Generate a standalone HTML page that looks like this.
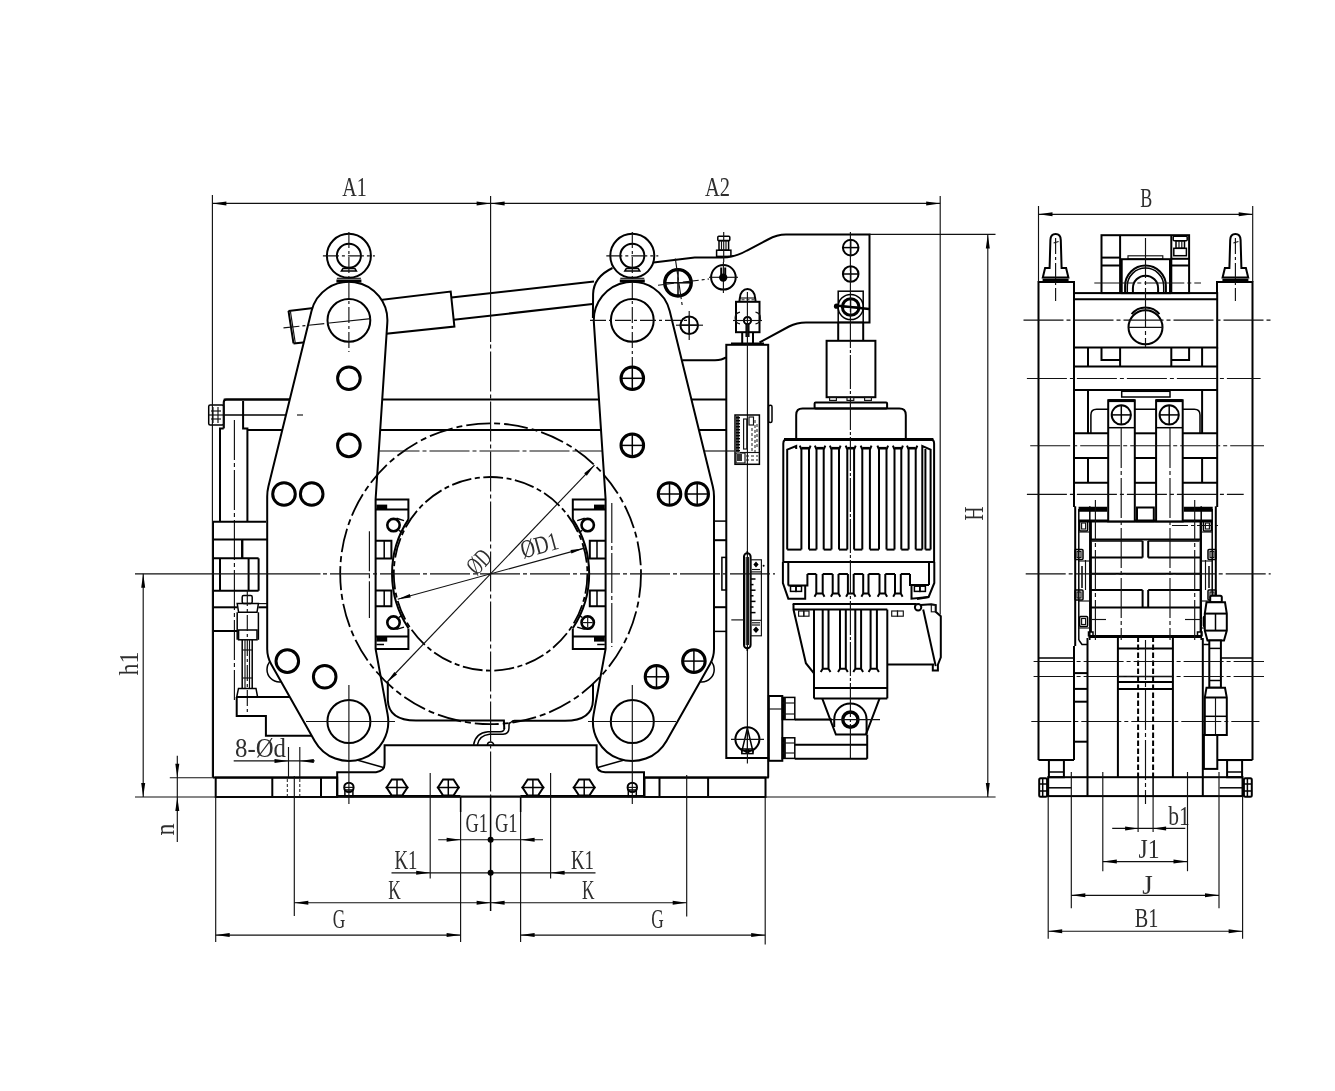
<!DOCTYPE html>
<html><head><meta charset="utf-8"><title>Brake drawing</title>
<style>
html,body{margin:0;padding:0;background:#fff}
body{width:1335px;height:1091px;overflow:hidden;font-family:"Liberation Serif",serif}
svg{display:block;filter:grayscale(1)}
.k{fill:none;stroke:#000;stroke-width:2}
.kw{fill:#fff;stroke:#000;stroke-width:2}
.m{fill:none;stroke:#000;stroke-width:1.5}
.mw{fill:#fff;stroke:#000;stroke-width:1.5}
.h{fill:none;stroke:#000;stroke-width:3}
.hw{fill:#fff;stroke:#000;stroke-width:2.6}
.t{fill:none;stroke:#111;stroke-width:1.15}
.tw{fill:#fff;stroke:#1a1a1a;stroke-width:1}
.c{fill:none;stroke:#111;stroke-width:1.15;stroke-dasharray:40 3 4 3}
.cs{fill:none;stroke:#111;stroke-width:1.15;stroke-dasharray:16 3 3 3}
.cd{fill:none;stroke:#000;stroke-width:1.8;stroke-dasharray:20 3.5 5 3.5}
.cd2{fill:none;stroke:#000;stroke-width:1.8;stroke-dasharray:24 4 6 4}
.d{fill:none;stroke:#000;stroke-width:2;stroke-dasharray:5.5 2.5}
.dt{fill:none;stroke:#1a1a1a;stroke-width:1;stroke-dasharray:3 2}
.ar{fill:#000;stroke:none}
.fk{fill:#000;stroke:none}
.g{fill:#777;stroke:none}
.tx{font-family:"Liberation Serif",serif;fill:#2e2e2e}
</style></head><body>
<svg width="1335" height="1091" viewBox="0 0 1335 1091">
<rect x="0" y="0" width="1335" height="1091" fill="#fff"/>
<g id="main">
<line class="k" x1="223.7" y1="399.5" x2="726" y2="399.5"/>
<line class="k" x1="247.4" y1="429.9" x2="726" y2="429.9"/>
<path class="k" d="M288.5 310.9 L450.7 291.5 L454.4 326.6 L293.5 343.4"/>
<path class="k" d="M288.5 310.9 L293.5 343.4"/>
<path class="t" d="M290.3 310.7 L295.3 343.2"/>
<path class="k" d="M451.4 297.6 L594 281.6"/>
<path class="k" d="M453.8 319.8 L592.5 304"/>
<rect class="m" x="208.7" y="405" width="15" height="20" rx="1.5"/>
<line class="t" x1="208.7" y1="415" x2="223.7" y2="415"/>
<line class="t" x1="213" y1="407" x2="213" y2="423"/>
<line class="t" x1="218" y1="407" x2="218" y2="423"/>
<line class="t" x1="211" y1="411" x2="221" y2="411"/>
<line class="t" x1="211" y1="419" x2="221" y2="419"/>
<path class="k" d="M223.7 428.6 L223.7 402.5 Q223.7 399.5 226.7 399.5 L300 399.5"/>
<path class="k" d="M243.1 401 L243.1 428.6 L247.4 428.6 L247.4 521.7"/>
<path class="k" d="M223.7 428.6 L220 428.6 L220 521.7"/>
<line class="m" x1="223.7" y1="415" x2="297" y2="415"/>
<line class="c" x1="234.4" y1="420" x2="234.4" y2="700"/>
<line class="t" x1="224" y1="402" x2="224" y2="428"/>
<line class="k" x1="213" y1="521.7" x2="266" y2="521.7"/>
<line class="k" x1="213" y1="521.7" x2="213" y2="777.6"/>
<line class="k" x1="213" y1="539.6" x2="267.8" y2="539.6"/>
<line class="t" x1="241.6" y1="539.6" x2="241.6" y2="558.3"/>
<line class="k" x1="242.4" y1="539.6" x2="242.4" y2="558.3"/>
<line class="k" x1="213" y1="558.3" x2="258.6" y2="558.3"/>
<line class="k" x1="258.6" y1="558.3" x2="258.6" y2="590.8"/>
<line class="k" x1="220" y1="558.3" x2="220" y2="590.8"/>
<line class="k" x1="248.6" y1="558.3" x2="248.6" y2="590.8"/>
<line class="k" x1="213" y1="590.8" x2="258.6" y2="590.8"/>
<line class="k" x1="213" y1="607.3" x2="237.2" y2="607.3"/>
<line class="k" x1="258.4" y1="607.3" x2="267.8" y2="607.3"/>
<line class="k" x1="213" y1="631" x2="237.2" y2="631"/>
<line class="t" x1="258.4" y1="603.6" x2="267.8" y2="603.6"/>
<rect class="m" x="242.2" y="595.4" width="10" height="8.2" rx="1.5"/>
<path class="m" d="M237.2 603.6 L258.4 603.6 L257 612.3 L238.6 612.3 Z"/>
<line class="m" x1="237.2" y1="612.3" x2="237.2" y2="639.8"/>
<line class="m" x1="258.4" y1="612.3" x2="258.4" y2="639.8"/>
<rect class="m" x="238.6" y="630" width="18.4" height="9.8"/>
<line class="m" x1="242.2" y1="639.8" x2="242.2" y2="688.4"/>
<line class="m" x1="252.2" y1="639.8" x2="252.2" y2="688.4"/>
<line class="t" x1="245" y1="639.8" x2="245" y2="688.4"/>
<line class="t" x1="249.5" y1="639.8" x2="249.5" y2="688.4"/>
<line class="t" x1="242.2" y1="650" x2="252.2" y2="650"/>
<line class="t" x1="242.2" y1="678" x2="252.2" y2="678"/>
<path class="m" d="M238.5 688.4 L256 688.4 L257.6 697.1 L236.7 697.1 Z"/>
<line class="cs" x1="247.3" y1="590" x2="247.3" y2="716"/>
<path class="k" d="M236.7 697.1 L300 697.1"/>
<path class="k" d="M236.7 697.1 L236.7 715.9 L265.9 715.9 L265.9 735.8 L320 735.8"/>
<circle class="m" cx="279.5" cy="669.5" r="12.5"/>
<circle class="m" cx="701.7" cy="669.5" r="12.5"/>
<path class="k" d="M213 777.6 L337.2 777.6"/>
<rect class="k" x="215.7" y="777.6" width="121.5" height="19.4"/>
<line class="k" x1="272.3" y1="777.6" x2="272.3" y2="797"/>
<line class="k" x1="321" y1="777.6" x2="321" y2="797"/>
<line class="dt" x1="287.3" y1="779" x2="287.3" y2="797"/>
<line class="dt" x1="299.8" y1="779" x2="299.8" y2="797"/>
<path class="k" d="M337.2 797 L337.2 772.2 L376 772.2 Q384.6 771 384.6 764 L384.6 745.2 L596.6 745.2 L596.6 764 Q596.6 772.2 605.2 772.2 L644 772.2 L644 797"/>
<path class="k" style="stroke-width:2.8" d="M337.2 796.3 L460.6 796.3 M520.3 796.3 L644.5 796.3"/>
<line class="k" x1="460.6" y1="796.5" x2="520.3" y2="796.5"/>
<line class="k" x1="644.5" y1="777.6" x2="768.8" y2="777.6"/>
<rect class="k" x="644.5" y="777.6" width="121" height="19.4"/>
<line class="k" x1="659.5" y1="777.6" x2="659.5" y2="797"/>
<line class="k" x1="708.1" y1="777.6" x2="708.1" y2="797"/>
<circle class="k" cx="348.9" cy="787.4" r="4.7"/>
<line class="t" x1="344.2" y1="787.4" x2="353.6" y2="787.4"/>
<rect class="m" x="344.9" y="790" width="8" height="6.5"/>
<circle class="k" cx="632.3" cy="787.4" r="4.7"/>
<line class="t" x1="627.6" y1="787.4" x2="637" y2="787.4"/>
<rect class="m" x="628.3" y="790" width="8" height="6.5"/>
<path class="k" d="M386.6 787.5 L391.8 779.4 L402.2 779.4 L407.4 787.5 L402.2 795.6 L391.8 795.6 Z"/>
<line class="m" x1="385.5" y1="787.5" x2="408.5" y2="787.5"/>
<line class="m" x1="397" y1="779.4" x2="397" y2="795.6"/>
<path class="k" d="M437.9 787.5 L443.1 779.4 L453.5 779.4 L458.7 787.5 L453.5 795.6 L443.1 795.6 Z"/>
<line class="m" x1="436.8" y1="787.5" x2="459.8" y2="787.5"/>
<line class="m" x1="448.3" y1="779.4" x2="448.3" y2="795.6"/>
<path class="k" d="M522.5 787.5 L527.7 779.4 L538.1 779.4 L543.3 787.5 L538.1 795.6 L527.7 795.6 Z"/>
<line class="m" x1="521.4" y1="787.5" x2="544.4" y2="787.5"/>
<line class="m" x1="532.9" y1="779.4" x2="532.9" y2="795.6"/>
<path class="k" d="M573.8 787.5 L579 779.4 L589.4 779.4 L594.6 787.5 L589.4 795.6 L579 795.6 Z"/>
<line class="m" x1="572.7" y1="787.5" x2="595.7" y2="787.5"/>
<line class="m" x1="584.2" y1="779.4" x2="584.2" y2="795.6"/>
<path class="m" d="M473.6 744.9 Q475.5 733 488 731.8 L500 731.8 Q504.5 731.5 504.4 728"/>
<path class="m" d="M477.4 744.9 Q479 735.5 489.5 734.3 L503 734.3 Q509 734 509 728 L509 724.5 Q509.3 722.5 511.5 722.3"/>
<path class="m" d="M487.4 745.2 A3.2 3.2 0 0 1 493.8 745.2"/>
<path class="k" d="M387.8 682 L387.8 700 Q388.5 720.5 416 720.5 L503.9 720.5 L504.3 729"/>
<path class="k" d="M593 684 L593 700 Q592.5 720.8 565 720.8 L514.5 720.8 Q512.5 721 511.5 722.3"/>
<path class="kw" d="M311.5 311.1 L268.4 486.6 Q267.2 491.5 267.2 496.5 L267.2 649 Q267.2 657 271.1 664 L314.7 740.9 A39.3 39.3 0 0 0 387.6 714.4 L375.6 649 L375.6 499.2 L387.3 322.9 A38.5 38.5 0 0 0 311.5 311.1 Z"/>
<path class="kw" d="M669.7 311.1 L712.8 486.6 Q714 491.5 714 496.5 L714 649 Q714 657 710.1 664 L666.5 740.9 A39.3 39.3 0 0 1 593.6 714.4 L605.6 649 L605.6 499.2 L593.9 322.9 A38.5 38.5 0 0 1 669.7 311.1 Z"/>
<line class="m" x1="357" y1="760" x2="383.5" y2="767.5"/>
<line class="m" x1="624.2" y1="760" x2="597.7" y2="767.5"/>
<line class="t" x1="297" y1="415" x2="303" y2="415"/>
<circle class="k" cx="348.9" cy="320.3" r="21.4"/>
<circle class="k" cx="348.9" cy="721.5" r="21.5"/>
<circle class="k" cx="632.3" cy="320.3" r="21.4"/>
<circle class="k" cx="632.3" cy="721.5" r="21.5"/>
<circle class="h" cx="348.9" cy="378.3" r="11.3"/>
<circle class="h" cx="632.3" cy="378.3" r="11.3"/>
<line class="m" x1="621" y1="378.3" x2="643.6" y2="378.3"/>
<line class="m" x1="632.3" y1="367" x2="632.3" y2="389.6"/>
<circle class="h" cx="348.9" cy="445.4" r="11.3"/>
<circle class="h" cx="632.3" cy="445.4" r="11.3"/>
<line class="m" x1="621" y1="445.4" x2="643.6" y2="445.4"/>
<line class="m" x1="632.3" y1="434.1" x2="632.3" y2="456.7"/>
<circle class="h" cx="284" cy="494" r="11.3"/>
<circle class="h" cx="697.2" cy="494" r="11.3"/>
<line class="m" x1="685.9" y1="494" x2="708.5" y2="494"/>
<line class="m" x1="697.2" y1="482.7" x2="697.2" y2="505.3"/>
<circle class="h" cx="311.7" cy="494" r="11.3"/>
<circle class="h" cx="669.5" cy="494" r="11.3"/>
<line class="m" x1="658.2" y1="494" x2="680.8" y2="494"/>
<line class="m" x1="669.5" y1="482.7" x2="669.5" y2="505.3"/>
<circle class="h" cx="287.3" cy="661.1" r="11.3"/>
<circle class="h" cx="693.9" cy="661.1" r="11.3"/>
<line class="m" x1="682.6" y1="661.1" x2="705.2" y2="661.1"/>
<line class="m" x1="693.9" y1="649.8" x2="693.9" y2="672.4"/>
<circle class="h" cx="324.7" cy="676.8" r="11.3"/>
<circle class="h" cx="656.5" cy="676.8" r="11.3"/>
<line class="m" x1="645.2" y1="676.8" x2="667.8" y2="676.8"/>
<line class="m" x1="656.5" y1="665.5" x2="656.5" y2="688.1"/>
<circle class="kw" cx="348.9" cy="255.8" r="22"/>
<circle class="k" cx="348.9" cy="255.8" r="12"/>
<path class="m" d="M342.9 268.5 L354.9 268.5 L356.4 271 L341.4 271 Z"/>
<path class="k" style="stroke-width:3" d="M336.4 281 L361.4 281"/>
<line class="t" x1="336.9" y1="278.3" x2="360.9" y2="278.3"/>
<line class="cs" x1="322.9" y1="255.8" x2="374.9" y2="255.8"/>
<circle class="kw" cx="632.3" cy="255.8" r="22"/>
<circle class="k" cx="632.3" cy="255.8" r="12"/>
<path class="m" d="M626.3 268.5 L638.3 268.5 L639.8 271 L624.8 271 Z"/>
<path class="k" style="stroke-width:3" d="M619.8 281 L644.8 281"/>
<line class="t" x1="620.3" y1="278.3" x2="644.3" y2="278.3"/>
<line class="cs" x1="606.3" y1="255.8" x2="658.3" y2="255.8"/>
<line class="cs" x1="348.9" y1="232" x2="348.9" y2="352"/>
<line class="cs" x1="632.3" y1="232" x2="632.3" y2="366"/>
<line class="cs" x1="283.5" y1="327.9" x2="327" y2="323.3"/>
<line class="t" x1="327" y1="323.3" x2="371" y2="318.6"/>
<line class="cs" x1="590" y1="320.3" x2="688" y2="320.3"/>
<line class="t" x1="348.9" y1="685" x2="348.9" y2="804"/>
<line class="t" x1="632.3" y1="685" x2="632.3" y2="804"/>
<line class="t" x1="306" y1="721.5" x2="395" y2="721.5"/>
<line class="t" x1="588" y1="721.5" x2="676" y2="721.5"/>
<path class="k" d="M375.6 499.4 L408.4 499.4 L408.4 519.8"/>
<path class="k" d="M375.6 649.1 L408.4 649.1 L408.4 628.6"/>
<line class="k" x1="375.6" y1="509.5" x2="408.4" y2="509.5"/>
<line class="k" x1="375.6" y1="636.6" x2="408.4" y2="636.6"/>
<rect class="fk" x="376.4" y="504.6" width="10.8" height="4.9"/>
<rect class="fk" x="376.4" y="636.6" width="10.8" height="5"/>
<line class="m" x1="376.4" y1="644.5" x2="384" y2="644.5"/>
<path class="k" d="M375.6 540.7 L391.4 540.7 L391.4 558.6 L375.6 558.6"/>
<line class="m" x1="384.2" y1="540.7" x2="384.2" y2="558.6"/>
<path class="k" d="M375.6 590.6 L391.4 590.6 L391.4 606.2 L375.6 606.2"/>
<line class="m" x1="384.2" y1="590.6" x2="384.2" y2="606.2"/>
<line class="c" x1="369.4" y1="531.3" x2="369.4" y2="617.9"/>
<path class="k" d="M408.4 628.2 A98.6 98.6 0 0 1 408.4 519.4"/>
<circle cx="393.5" cy="525.1" r="6.2" fill="#fff" stroke="#000" stroke-width="2.6"/>
<line class="m" x1="396.5" y1="518.3" x2="404" y2="520.6"/>
<line class="m" x1="399" y1="530.3" x2="402.5" y2="532.6"/>
<circle cx="393.5" cy="622.6" r="6.2" fill="#fff" stroke="#000" stroke-width="2.6"/>
<line class="m" x1="396.5" y1="629.4" x2="404" y2="627.1"/>
<line class="m" x1="399" y1="617.4" x2="402.5" y2="615.1"/>
<path class="k" d="M605.6 499.4 L572.8 499.4 L572.8 519.8"/>
<path class="k" d="M605.6 649.1 L572.8 649.1 L572.8 628.6"/>
<line class="k" x1="605.6" y1="509.5" x2="572.8" y2="509.5"/>
<line class="k" x1="605.6" y1="636.6" x2="572.8" y2="636.6"/>
<rect class="fk" x="594" y="504.6" width="10.8" height="4.9"/>
<rect class="fk" x="594" y="636.6" width="10.8" height="5"/>
<line class="m" x1="604.8" y1="644.5" x2="597.2" y2="644.5"/>
<path class="k" d="M605.6 540.7 L589.8 540.7 L589.8 558.6 L605.6 558.6"/>
<line class="m" x1="597" y1="540.7" x2="597" y2="558.6"/>
<path class="k" d="M605.6 590.6 L589.8 590.6 L589.8 606.2 L605.6 606.2"/>
<line class="m" x1="597" y1="590.6" x2="597" y2="606.2"/>
<line class="c" x1="611.8" y1="503" x2="611.8" y2="647"/>
<path class="k" d="M572.8 519.4 A98.6 98.6 0 0 1 572.8 628.2"/>
<circle cx="587.7" cy="525.1" r="6.2" fill="#fff" stroke="#000" stroke-width="2.6"/>
<line class="m" x1="584.7" y1="518.3" x2="577.2" y2="520.6"/>
<line class="m" x1="582.2" y1="530.3" x2="578.7" y2="532.6"/>
<circle cx="587.7" cy="622.6" r="6.2" fill="#fff" stroke="#000" stroke-width="2.6"/>
<line class="m" x1="584.7" y1="629.4" x2="577.2" y2="627.1"/>
<line class="m" x1="582.2" y1="617.4" x2="578.7" y2="615.1"/>
<line class="t" x1="582.7" y1="622.6" x2="592.7" y2="622.6"/>
<line class="t" x1="587.7" y1="617.6" x2="587.7" y2="627.6"/>
<circle class="cd" cx="490.6" cy="573.8" r="96.8"/>
<circle class="cd2" cx="490.6" cy="573.8" r="150.4"/>
</g>
<g id="motor">
<path class="k" d="M653.5 262.6 L694.7 257.6 L722 257.6 Q736 257 747 250.5 L768 239.5 Q777 234.6 786 234.6 L869.5 234.6 L869.5 322.4 L806 322.4 Q797 322.4 789 326.5 L759.5 342.5"/>
<path class="k" d="M682.3 360.2 L715 360.2 Q722 360 726 357.3"/>
<path class="k" d="M592.9 318 L593.1 294 Q593.6 277 612.5 268"/>
<circle class="k" cx="678" cy="282.8" r="13.2"/>
<circle cx="678" cy="282.8" r="13.2" fill="none" stroke="#000" stroke-width="3.4"/>
<line class="m" x1="664" y1="282.8" x2="692" y2="282.8"/>
<line class="m" x1="678" y1="269" x2="678" y2="297"/>
<circle class="k" cx="723.4" cy="277.3" r="12.3"/>
<line class="t" x1="723.4" y1="262" x2="723.4" y2="293"/>
<line class="t" x1="709" y1="277.3" x2="738" y2="277.3"/>
<circle class="fk" cx="723.2" cy="277.6" r="4.2"/>
<line class="k" x1="721.2" y1="267.5" x2="721.2" y2="277"/>
<line class="k" x1="725.2" y1="267.5" x2="725.2" y2="277"/>
<circle class="k" cx="689.2" cy="325.2" r="8.8"/>
<line class="m" x1="680.4" y1="325.2" x2="698" y2="325.2"/>
<line class="m" x1="689.2" y1="316.4" x2="689.2" y2="334"/>
<line class="t" x1="676" y1="325.2" x2="703" y2="325.2"/>
<line class="t" x1="689.2" y1="311" x2="689.2" y2="340"/>
<line class="cs" x1="658" y1="285.2" x2="709" y2="279"/>
<line class="cs" x1="675.3" y1="258.5" x2="682.5" y2="307.5"/>
<rect class="m" x="716.6" y="250.2" width="14.3" height="6.2"/>
<rect class="m" x="719" y="240.5" width="9.6" height="9.7"/>
<rect class="m" x="717.8" y="236.3" width="12" height="4.4" rx="1"/>
<line class="t" x1="721.5" y1="240.5" x2="721.5" y2="250"/>
<line class="t" x1="726" y1="240.5" x2="726" y2="250"/>
<line class="t" x1="723.7" y1="232" x2="723.7" y2="262"/>
<circle class="k" cx="850.7" cy="247.6" r="7.8"/>
<line class="m" x1="842.9" y1="247.6" x2="858.5" y2="247.6"/>
<line class="m" x1="850.7" y1="239.8" x2="850.7" y2="255.4"/>
<circle class="k" cx="850.7" cy="274" r="7.8"/>
<line class="m" x1="842.9" y1="274" x2="858.5" y2="274"/>
<line class="m" x1="850.7" y1="266.2" x2="850.7" y2="281.8"/>
<rect class="m" x="838.2" y="291.2" width="25" height="31.2"/>
<circle class="m" cx="850.7" cy="307" r="12.6"/>
<circle cx="850.7" cy="307" r="8.3" fill="none" stroke="#000" stroke-width="3"/>
<line class="t" x1="842" y1="307" x2="860" y2="307"/>
<line class="t" x1="850.7" y1="298" x2="850.7" y2="316"/>
<circle class="fk" cx="836.5" cy="306.2" r="2.6"/>
<path d="M836 305.5 L869 309" stroke="#000" stroke-width="2.4" fill="none"/>
<line class="k" x1="838.2" y1="322.4" x2="838.2" y2="340.8"/>
<line class="k" x1="863.2" y1="322.4" x2="863.2" y2="340.8"/>
<rect class="k" x="826.6" y="340.8" width="48.8" height="56.4"/>
<rect class="t" x="829.6" y="397.4" width="6.8" height="3"/>
<rect class="t" x="847" y="397.4" width="6.8" height="3"/>
<rect class="t" x="864.6" y="397.4" width="6.8" height="3"/>
<rect class="k" x="814.6" y="402.4" width="72.5" height="6.2" rx="1"/>
<path class="k" d="M796.2 438.8 L796.2 415 Q796.2 408.6 802.6 408.6 L899.4 408.6 Q905.8 408.6 905.8 415 L905.8 438.8"/>
<path class="kw" d="M783.3 562 L783.3 443.5 Q783.3 439 787.8 439 L929.6 439 Q934.1 439 934.1 443.5 L934.1 562"/>
<path d="M784 439.4 L933.4 439.4" stroke="#000" stroke-width="3" fill="none"/>
<line class="k" x1="783.3" y1="562" x2="934.1" y2="562"/>
<path class="k" d="M801.4 549.6 L801.4 449.5 L799.8 445.6 M809 549.6 L809 449.5 L810.6 445.6"/>
<path d="M801.4 448.2 L809 448.2" stroke="#000" stroke-width="2.6" fill="none"/>
<path class="k" d="M816.5 549.6 L816.5 449.5 L814.9 445.6 M823.7 549.6 L823.7 449.5 L825.3 445.6"/>
<path d="M816.5 448.2 L823.7 448.2" stroke="#000" stroke-width="2.6" fill="none"/>
<path class="k" d="M831.5 549.6 L831.5 449.5 L829.9 445.6 M839 549.6 L839 449.5 L840.6 445.6"/>
<path d="M831.5 448.2 L839 448.2" stroke="#000" stroke-width="2.6" fill="none"/>
<path class="k" d="M847.3 549.6 L847.3 449.5 L845.7 445.6 M854.1 549.6 L854.1 449.5 L855.7 445.6"/>
<path d="M847.3 448.2 L854.1 448.2" stroke="#000" stroke-width="2.6" fill="none"/>
<path class="k" d="M862.3 549.6 L862.3 449.5 L860.7 445.6 M869.9 549.6 L869.9 449.5 L871.5 445.6"/>
<path d="M862.3 448.2 L869.9 448.2" stroke="#000" stroke-width="2.6" fill="none"/>
<path class="k" d="M879 549.6 L879 449.5 L877.4 445.6 M886.5 549.6 L886.5 449.5 L888.1 445.6"/>
<path d="M879 448.2 L886.5 448.2" stroke="#000" stroke-width="2.6" fill="none"/>
<path class="k" d="M894.5 549.6 L894.5 449.5 L892.9 445.6 M901.3 549.6 L901.3 449.5 L902.9 445.6"/>
<path d="M894.5 448.2 L901.3 448.2" stroke="#000" stroke-width="2.6" fill="none"/>
<path class="k" d="M908.6 549.6 L908.6 449.5 L907 445.6 M915.7 549.6 L915.7 449.5 L917.3 445.6"/>
<path d="M908.6 448.2 L915.7 448.2" stroke="#000" stroke-width="2.6" fill="none"/>
<line class="k" x1="787.2" y1="549.6" x2="801.4" y2="549.6"/>
<line class="k" x1="809" y1="549.6" x2="816.5" y2="549.6"/>
<line class="k" x1="823.7" y1="549.6" x2="831.5" y2="549.6"/>
<line class="k" x1="839" y1="549.6" x2="847.3" y2="549.6"/>
<line class="k" x1="854.1" y1="549.6" x2="862.3" y2="549.6"/>
<line class="k" x1="869.9" y1="549.6" x2="879" y2="549.6"/>
<line class="k" x1="886.5" y1="549.6" x2="894.5" y2="549.6"/>
<line class="k" x1="901.3" y1="549.6" x2="908.6" y2="549.6"/>
<line class="k" x1="915.7" y1="549.6" x2="922.3" y2="549.6"/>
<line class="k" x1="925.4" y1="549.6" x2="930.6" y2="549.6"/>
<path class="k" d="M787.2 549.6 L787.2 449.6 L796.2 446 L796.2 449"/>
<path class="k" d="M922.3 549.6 L922.3 446 L930.6 449.6 L930.6 549.6"/>
<line class="k" x1="925.4" y1="449" x2="925.4" y2="549.6"/>
<path class="k" d="M782.9 562 L782.9 583 L788.3 598.7 L805.2 598.7 L805.2 585.6"/>
<path class="k" d="M934.3 562 L934.3 583 L928.6 597 L917 599"/>
<path class="k" d="M928.6 597 L911.5 598.7 L911.5 585"/>
<line class="k" x1="788.3" y1="562" x2="788.3" y2="585.6"/>
<line class="k" x1="929" y1="562" x2="929" y2="585"/>
<path class="k" d="M788.3 585.6 L807.4 585.6 L807.4 574"/>
<path class="k" d="M929 585 L910 585 L910 574"/>
<rect class="m" x="790.5" y="586.2" width="5.5" height="5.2"/>
<rect class="m" x="796" y="586.2" width="5.5" height="5.2"/>
<rect class="m" x="914.4" y="586.2" width="5.5" height="5.2"/>
<rect class="m" x="919.9" y="586.2" width="5.5" height="5.2"/>
<line class="k" x1="807.4" y1="574" x2="816.3" y2="574"/>
<line class="k" x1="822.7" y1="574" x2="832.7" y2="574"/>
<line class="k" x1="838.5" y1="574" x2="847.9" y2="574"/>
<line class="k" x1="853.7" y1="574" x2="863.2" y2="574"/>
<line class="k" x1="868.5" y1="574" x2="879.5" y2="574"/>
<line class="k" x1="885.3" y1="574" x2="895" y2="574"/>
<line class="k" x1="900.8" y1="574" x2="910" y2="574"/>
<path class="k" d="M816.3 574 L816.3 593.5 L822.7 593.5 L822.7 574 M816.3 593.5 l-1.8 3.2 M822.7 593.5 l1.8 3.2"/>
<path class="k" d="M832.7 574 L832.7 593.5 L838.5 593.5 L838.5 574 M832.7 593.5 l-1.8 3.2 M838.5 593.5 l1.8 3.2"/>
<path class="k" d="M847.9 574 L847.9 593.5 L853.7 593.5 L853.7 574 M847.9 593.5 l-1.8 3.2 M853.7 593.5 l1.8 3.2"/>
<path class="k" d="M863.2 574 L863.2 593.5 L868.5 593.5 L868.5 574 M863.2 593.5 l-1.8 3.2 M868.5 593.5 l1.8 3.2"/>
<path class="k" d="M879.5 574 L879.5 593.5 L885.3 593.5 L885.3 574 M879.5 593.5 l-1.8 3.2 M885.3 593.5 l1.8 3.2"/>
<path class="k" d="M895 574 L895 593.5 L900.8 593.5 L900.8 574 M895 593.5 l-1.8 3.2 M900.8 593.5 l1.8 3.2"/>
<line class="k" x1="792.7" y1="604.1" x2="916.6" y2="604.1"/>
<path class="k" d="M793.5 604.1 L793.5 609.6 L805.9 663.2 L814 673.4"/>
<line class="k" x1="793.5" y1="609.6" x2="887.3" y2="609.6"/>
<line class="k" x1="814" y1="609.6" x2="814" y2="698.4"/>
<line class="k" x1="887.3" y1="609.6" x2="887.3" y2="698.4"/>
<rect class="t" x="798.6" y="611" width="5.2" height="5.2"/>
<rect class="t" x="803.8" y="611" width="5.2" height="5.2"/>
<rect class="t" x="891.7" y="611" width="5.8" height="5.2"/>
<rect class="t" x="897.5" y="611" width="5.8" height="5.2"/>
<path class="k" d="M822.7 609.6 L822.7 668.8 L828.5 668.8 L828.5 609.6 M822.7 668.8 l-2 3.2 M828.5 668.8 l2 3.2"/>
<path class="k" d="M840 609.6 L840 668.8 L845.8 668.8 L845.8 609.6 M840 668.8 l-2 3.2 M845.8 668.8 l2 3.2"/>
<path class="k" d="M855.3 609.6 L855.3 668.8 L861.1 668.8 L861.1 609.6 M855.3 668.8 l-2 3.2 M861.1 668.8 l2 3.2"/>
<path class="k" d="M870.6 609.6 L870.6 668.8 L876.9 668.8 L876.9 609.6 M870.6 668.8 l-2 3.2 M876.9 668.8 l2 3.2"/>
<line class="k" x1="814" y1="688.1" x2="887.3" y2="688.1"/>
<line class="k" x1="814" y1="698.4" x2="887.3" y2="698.4"/>
<circle class="k" cx="918.1" cy="607.2" r="3.2"/>
<path class="k" d="M920.5 605 L931.3 604.3 L935.7 605 L935.7 611.8 L940.8 616.2 L940.8 657.3 L937.9 664.6 L937.9 670.5 L932.8 670.5 L932.8 664.6"/>
<path class="k" d="M923.2 609.5 L935.7 666.1"/>
<line class="k" x1="887.3" y1="664.6" x2="934" y2="664.6"/>
<rect class="t" x="931.3" y="604.8" width="4.4" height="7"/>
<path class="k" d="M822.2 698.4 L835.9 734.6 L865.9 734.6 L879.6 698.4"/>
<path class="k" d="M834.2 727 L834.2 719.6 A16.2 16.2 0 0 1 866.6 719.6 L866.6 734.6"/>
<circle cx="850.4" cy="719.6" r="7.6" fill="none" stroke="#000" stroke-width="3.4"/>
<line class="t" x1="795" y1="719.6" x2="880" y2="719.6"/>
<rect class="kw" x="726.3" y="344.8" width="41.9" height="413.2"/>
<path class="k" d="M768.2 758 L768.2 777.6"/>
<rect class="m" x="768.6" y="405.2" width="3.4" height="17.4" rx="1.5"/>
<line class="k" x1="731" y1="343.6" x2="764" y2="343.6"/>
<rect class="k" x="736" y="301.8" width="23.5" height="30.4"/>
<path class="k" d="M739.4 301.4 L739.9 298 A7.6 9 0 0 1 755.1 298 L755.6 301.4"/>
<line class="t" x1="740" y1="298" x2="755" y2="298"/>
<line class="dt" x1="741.5" y1="299.8" x2="754" y2="299.8"/>
<line class="k" x1="742.2" y1="332.2" x2="742.2" y2="343.6"/>
<line class="k" x1="753" y1="332.2" x2="753" y2="343.6"/>
<circle class="k" cx="747.5" cy="320.5" r="3.6"/>
<line class="m" x1="746.2" y1="324" x2="746.2" y2="337"/>
<line class="m" x1="748.8" y1="324" x2="748.8" y2="337"/>
<path class="t" d="M740 323.9 A6 6 0 0 1 740 312.1"/>
<path class="t" d="M755.5 312.1 A6 6 0 0 1 755.5 323.9"/>
<line class="t" x1="733" y1="320.5" x2="762" y2="320.5"/>
<line class="t" x1="747.4" y1="292" x2="747.4" y2="763.5"/>
<rect class="m" x="735" y="415" width="24.4" height="49.3"/>
<rect x="736" y="416" width="3.2" height="36" fill="#444"/>
<rect x="736" y="417" width="4" height="1.4" fill="#000"/>
<rect x="736" y="420" width="4" height="1.4" fill="#000"/>
<rect x="736" y="423" width="4" height="1.4" fill="#000"/>
<rect x="736" y="426" width="4" height="1.4" fill="#000"/>
<rect x="736" y="429" width="4" height="1.4" fill="#000"/>
<rect x="736" y="432" width="4" height="1.4" fill="#000"/>
<rect x="736" y="435" width="4" height="1.4" fill="#000"/>
<rect x="736" y="438" width="4" height="1.4" fill="#000"/>
<rect x="736" y="441" width="4" height="1.4" fill="#000"/>
<rect x="736" y="444" width="4" height="1.4" fill="#000"/>
<rect x="736" y="447" width="4" height="1.4" fill="#000"/>
<rect x="736" y="450" width="4" height="1.4" fill="#000"/>
<rect class="t" x="743.6" y="419" width="3.2" height="30"/>
<rect class="t" x="749" y="417" width="4.5" height="8"/>
<line class="dt" x1="752" y1="428" x2="752" y2="452"/>
<line class="dt" x1="755" y1="420" x2="755" y2="452"/>
<line class="dt" x1="757" y1="424" x2="757" y2="448"/>
<rect class="t" x="736" y="453" width="9" height="10"/>
<rect x="737" y="454" width="5" height="7" fill="#333"/>
<line class="dt" x1="746" y1="456" x2="758" y2="456"/>
<line class="dt" x1="746" y1="460" x2="758" y2="460"/>
<line class="t" x1="740" y1="452.5" x2="759" y2="452.5"/>
<rect class="k" x="744" y="553.3" width="6.6" height="95" rx="3.3"/>
<line class="t" x1="746.2" y1="557" x2="746.2" y2="645"/>
<line class="t" x1="748.4" y1="557" x2="748.4" y2="645"/>
<line class="m" x1="747.3" y1="551" x2="747.3" y2="553.3"/>
<line class="m" x1="747.3" y1="648.3" x2="747.3" y2="651"/>
<rect class="t" x="750.6" y="559.8" width="10.8" height="76"/>
<line class="t" x1="750.6" y1="571.9" x2="761.4" y2="571.9"/>
<line class="t" x1="750.6" y1="620.3" x2="761.4" y2="620.3"/>
<line class="m" x1="750.6" y1="579" x2="755.5" y2="579"/>
<line class="m" x1="750.6" y1="584.6" x2="753.5" y2="584.6"/>
<line class="m" x1="750.6" y1="590.2" x2="755.5" y2="590.2"/>
<line class="m" x1="750.6" y1="595.8" x2="753.5" y2="595.8"/>
<line class="m" x1="750.6" y1="601.4" x2="755.5" y2="601.4"/>
<line class="m" x1="750.6" y1="607" x2="753.5" y2="607"/>
<line class="m" x1="750.6" y1="612.6" x2="755.5" y2="612.6"/>
<path d="M756 561.5 l2.6 3 l-2.6 3 l-2.6 -3 Z M756 626.5 l3 3.2 l-3 3.2 l-3 -3.2 Z" fill="#000"/>
<circle class="fk" cx="763.6" cy="565.8" r="1"/>
<line class="t" x1="752" y1="569.5" x2="760" y2="569.5"/>
<line class="t" x1="752" y1="622.8" x2="760" y2="622.8"/>
<line class="t" x1="752" y1="625" x2="760" y2="625"/>
<line class="t" x1="731.3" y1="619.9" x2="744" y2="619.9"/>
<circle class="k" cx="747.4" cy="739.3" r="12"/>
<path class="m" d="M741.6 752.5 L747.4 728.2 L753.2 752.5"/>
<line class="t" x1="747.4" y1="728.2" x2="747.4" y2="752"/>
<rect class="m" x="741.8" y="749" width="4.4" height="4.6"/>
<rect class="m" x="748.6" y="749" width="4.4" height="4.6"/>
<line class="t" x1="731" y1="739.3" x2="764" y2="739.3"/>
<rect class="k" x="768.8" y="696" width="13.5" height="64.8"/>
<line class="t" x1="768.8" y1="709" x2="782.3" y2="709"/>
<rect class="m" x="782.3" y="697.4" width="12.5" height="22.2"/>
<rect x="782.3" y="697.4" width="3.4" height="22.2" fill="#000"/>
<line class="t" x1="782.3" y1="703" x2="794.8" y2="703"/>
<line class="t" x1="782.3" y1="714" x2="794.8" y2="714"/>
<line class="t" x1="785" y1="697.4" x2="785" y2="719.6"/>
<rect class="m" x="782.3" y="737.8" width="12.5" height="20.6"/>
<rect x="782.3" y="737.8" width="3.4" height="20.6" fill="#000"/>
<line class="t" x1="782.3" y1="743" x2="794.8" y2="743"/>
<line class="t" x1="782.3" y1="753" x2="794.8" y2="753"/>
<line class="t" x1="785" y1="737.8" x2="785" y2="758.4"/>
<line class="k" x1="794.8" y1="744.8" x2="867.2" y2="744.8"/>
<line class="k" x1="794.8" y1="758.8" x2="867.2" y2="758.8"/>
<line class="k" x1="867.2" y1="734.6" x2="867.2" y2="758.8"/>
<line class="k" x1="794.8" y1="719.6" x2="832" y2="719.6"/>
<line x1="850.4" y1="232" x2="850.4" y2="758.5" stroke="#111" stroke-width="1.15" stroke-dasharray="34 2 3 2"/>
<line class="m" x1="713.8" y1="521.1" x2="726.3" y2="521.1"/>
<line class="k" x1="713.8" y1="540.2" x2="726.3" y2="540.2"/>
<line class="k" x1="713.8" y1="607.2" x2="726.3" y2="607.2"/>
<line class="m" x1="713.8" y1="631.4" x2="726.3" y2="631.4"/>
<rect class="m" x="721.9" y="557.4" width="4.4" height="32.6"/>
</g>
<g id="side">
<path class="k" d="M1038.5 760.1 L1038.5 281.9 L1074 281.9 L1074 293.1"/>
<line class="k" x1="1038.5" y1="760.1" x2="1074" y2="760.1"/>
<line class="k" x1="1074" y1="646" x2="1074" y2="760.1"/>
<line class="m" x1="1038.5" y1="658.1" x2="1073" y2="658.1"/>
<path class="k" d="M1042.8 277.4 L1045.1 268 L1049.6 268 L1050.4 240 Q1050.6 234 1055.6 234 Q1060.6 234 1060.8 240 L1061.6 268 L1066.1 268 L1068.4 277.4 Z"/>
<line class="t" x1="1053.6" y1="243" x2="1058.6" y2="241.5"/>
<path d="M1042.6 280 L1068.6 280" stroke="#000" stroke-width="2.6" fill="none"/>
<line class="cs" x1="1055.6" y1="238" x2="1055.6" y2="301"/>
<rect class="k" x="1048.9" y="760.1" width="15" height="17.1"/>
<line class="m" x1="1048.9" y1="772" x2="1063.9" y2="772"/>
<rect class="k" x="1039.2" y="778.3" width="7.9" height="18.4" rx="1.5"/>
<line class="m" x1="1039.2" y1="784" x2="1047.1" y2="784"/>
<line class="m" x1="1039.2" y1="791" x2="1047.1" y2="791"/>
<line class="m" x1="1042.7" y1="778.3" x2="1042.7" y2="796.7"/>
<line class="m" x1="1047.1" y1="787.8" x2="1071.3" y2="787.8"/>
<path class="k" d="M1252.5 760.1 L1252.5 281.9 L1217 281.9 L1217 293.1"/>
<line class="k" x1="1252.5" y1="760.1" x2="1217" y2="760.1"/>
<line class="k" x1="1217" y1="646" x2="1217" y2="760.1"/>
<line class="m" x1="1252.5" y1="658.1" x2="1218" y2="658.1"/>
<path class="k" d="M1222.6 277.4 L1224.9 268 L1229.4 268 L1230.2 240 Q1230.4 234 1235.4 234 Q1240.4 234 1240.6 240 L1241.4 268 L1245.9 268 L1248.2 277.4 Z"/>
<line class="t" x1="1233.4" y1="243" x2="1238.4" y2="241.5"/>
<path d="M1222.4 280 L1248.4 280" stroke="#000" stroke-width="2.6" fill="none"/>
<line class="cs" x1="1235.4" y1="238" x2="1235.4" y2="301"/>
<rect class="k" x="1227.1" y="760.1" width="15" height="17.1"/>
<line class="m" x1="1242.1" y1="772" x2="1227.1" y2="772"/>
<rect class="k" x="1243.9" y="778.3" width="7.9" height="18.4" rx="1.5"/>
<line class="m" x1="1243.9" y1="784" x2="1251.8" y2="784"/>
<line class="m" x1="1243.9" y1="791" x2="1251.8" y2="791"/>
<line class="m" x1="1247.4" y1="778.3" x2="1247.4" y2="796.7"/>
<line class="m" x1="1243.9" y1="787.8" x2="1219.7" y2="787.8"/>
<rect class="k" x="1101.5" y="235.2" width="87.6" height="57.9"/>
<line class="k" x1="1120.1" y1="235.2" x2="1120.1" y2="293.1"/>
<line class="k" x1="1171.3" y1="235.2" x2="1171.3" y2="293.1"/>
<line class="k" x1="1101.5" y1="257.6" x2="1120.1" y2="257.6"/>
<line class="k" x1="1171.3" y1="258.8" x2="1189.1" y2="258.8"/>
<line class="k" x1="1101.5" y1="265.5" x2="1120.1" y2="265.5"/>
<line class="k" x1="1171.3" y1="265.5" x2="1189.1" y2="265.5"/>
<rect class="t" x="1128" y="255.8" width="34.8" height="3.2"/>
<rect class="k" x="1121.7" y="259.2" width="48.3" height="33.9"/>
<path class="k" d="M1125.1 293.1 L1125.1 285.9 A20.4 20.4 0 0 1 1165.9 285.9 L1165.9 293.1"/>
<path class="m" d="M1127.3 293.1 L1127.3 286.2 A18.2 18.2 0 0 1 1163.7 286.2 L1163.7 293.1"/>
<path class="k" d="M1132.9 293.1 L1132.9 288.2 A12.6 12.6 0 0 1 1158.1 288.2 L1158.1 293.1"/>
<rect class="m" x="1173.2" y="236.3" width="14" height="4.5" rx="1"/>
<rect class="m" x="1176" y="240.8" width="8.5" height="7.5"/>
<line class="t" x1="1179" y1="240.8" x2="1179" y2="248.3"/>
<line class="t" x1="1181.8" y1="240.8" x2="1181.8" y2="248.3"/>
<rect class="m" x="1173.8" y="248.3" width="12.6" height="7.4"/>
<line class="c" x1="1094.3" y1="283" x2="1201" y2="283"/>
<rect class="k" x="1074" y="293.1" width="143.2" height="54.4"/>
<line class="k" x1="1074" y1="299.2" x2="1217.2" y2="299.2"/>
<circle class="k" cx="1145.5" cy="327.3" r="17"/>
<path class="k" d="M1131.6 314.2 A17.6 17.6 0 0 1 1159.4 314.2"/>
<line class="t" x1="1128" y1="327.3" x2="1163" y2="327.3"/>
<line class="k" x1="1074" y1="347.5" x2="1074" y2="507"/>
<line class="k" x1="1217.2" y1="347.5" x2="1217.2" y2="507"/>
<line class="k" x1="1088" y1="347.5" x2="1088" y2="366.6"/>
<line class="k" x1="1120.1" y1="347.5" x2="1120.1" y2="366.6"/>
<line class="k" x1="1171.3" y1="347.5" x2="1171.3" y2="366.6"/>
<line class="k" x1="1202.1" y1="347.5" x2="1202.1" y2="366.6"/>
<path class="k" d="M1101.5 347.5 L1101.5 359.9 L1120.1 359.9"/>
<path class="k" d="M1189.1 347.5 L1189.1 359.9 L1171.3 359.9"/>
<line class="k" x1="1074" y1="366.6" x2="1217.2" y2="366.6"/>
<line class="k" x1="1074" y1="390" x2="1217.2" y2="390"/>
<rect class="m" x="1121.7" y="391.3" width="48.3" height="5.7"/>
<line class="k" x1="1088" y1="390" x2="1088" y2="433.3"/>
<line class="k" x1="1202.1" y1="390" x2="1202.1" y2="433.3"/>
<path class="m" d="M1090.9 433.3 L1090.9 415 Q1090.9 409.3 1096.6 409.3 L1194.3 409.3 Q1200 409.3 1200 415 L1200 433.3"/>
<line class="k" x1="1074" y1="433.3" x2="1108.2" y2="433.3"/>
<line class="k" x1="1134.7" y1="433.3" x2="1156.1" y2="433.3"/>
<line class="k" x1="1183" y1="433.3" x2="1217.2" y2="433.3"/>
<line class="k" x1="1074" y1="458" x2="1108.2" y2="458"/>
<line class="k" x1="1134.7" y1="458" x2="1156.1" y2="458"/>
<line class="k" x1="1183" y1="458" x2="1217.2" y2="458"/>
<line class="k" x1="1074" y1="482.8" x2="1108.2" y2="482.8"/>
<line class="k" x1="1134.7" y1="482.8" x2="1156.1" y2="482.8"/>
<line class="k" x1="1183" y1="482.8" x2="1217.2" y2="482.8"/>
<line class="k" x1="1088" y1="458" x2="1088" y2="482.8"/>
<line class="k" x1="1202.1" y1="458" x2="1202.1" y2="482.8"/>
<line class="t" x1="1134.7" y1="458" x2="1134.7" y2="482.8"/>
<line class="t" x1="1156.1" y1="458" x2="1156.1" y2="482.8"/>
<path d="M1078.6 509.3 L1107.2 509.3 M1183.8 509.3 L1212.7 509.3" stroke="#000" stroke-width="5" fill="none"/>
<rect class="k" x="1137" y="507.5" width="16.8" height="13.9"/>
<path d="M1078.6 521 L1212.7 521" stroke="#000" stroke-width="2.8" fill="none"/>
<line class="k" x1="1090.9" y1="521.4" x2="1090.9" y2="632"/>
<line class="k" x1="1200.6" y1="521.4" x2="1200.6" y2="632"/>
<line class="k" x1="1090.9" y1="539.6" x2="1200.6" y2="539.6"/>
<line class="k" x1="1090.9" y1="573.8" x2="1200.6" y2="573.8"/>
<line class="k" x1="1090.9" y1="607.6" x2="1200.6" y2="607.6"/>
<line class="k" x1="1090.9" y1="557.6" x2="1142.6" y2="557.6"/>
<line class="k" x1="1148.2" y1="557.6" x2="1200.6" y2="557.6"/>
<line class="k" x1="1090.9" y1="590" x2="1142.6" y2="590"/>
<line class="k" x1="1148.2" y1="590" x2="1200.6" y2="590"/>
<path class="k" d="M1142.6 541 L1142.6 557.6"/>
<path class="k" d="M1148.2 541 L1148.2 557.6"/>
<path class="k" d="M1142.6 590 L1142.6 607.6"/>
<path class="k" d="M1148.2 590 L1148.2 607.6"/>
<line class="m" x1="1092" y1="541" x2="1142.6" y2="541"/>
<line class="m" x1="1148.2" y1="541" x2="1199.5" y2="541"/>
<path d="M1088.5 636.5 L1202 636.5" stroke="#000" stroke-width="2.8" fill="none"/>
<path class="m" d="M1088.5 636.5 L1088.5 632 L1093 632 L1093 636.5"/>
<path class="m" d="M1202 636.5 L1202 632 L1197.5 632 L1197.5 636.5"/>
<line class="c" x1="1095.4" y1="500" x2="1095.4" y2="640"/>
<line class="c" x1="1194.7" y1="500" x2="1194.7" y2="640"/>
<rect class="kw" x="1108.2" y="400.3" width="26.6" height="121.1"/>
<path d="M1108.2 400.6 L1134.8 400.6" stroke="#000" stroke-width="3" fill="none"/>
<line class="m" x1="1108.2" y1="427.7" x2="1134.8" y2="427.7"/>
<circle class="k" cx="1121.3" cy="414.9" r="9.6"/>
<line class="m" x1="1111.7" y1="414.9" x2="1130.9" y2="414.9"/>
<line class="m" x1="1121.3" y1="405.3" x2="1121.3" y2="424.5"/>
<rect class="kw" x="1156.1" y="400.3" width="26.6" height="121.1"/>
<path d="M1156.1 400.6 L1182.7 400.6" stroke="#000" stroke-width="3" fill="none"/>
<line class="m" x1="1156.1" y1="427.7" x2="1182.7" y2="427.7"/>
<circle class="k" cx="1169.2" cy="414.9" r="9.6"/>
<line class="m" x1="1159.6" y1="414.9" x2="1178.8" y2="414.9"/>
<line class="m" x1="1169.2" y1="405.3" x2="1169.2" y2="424.5"/>
<line class="c" x1="1121.2" y1="428" x2="1121.2" y2="640"/>
<line class="c" x1="1170" y1="428" x2="1170" y2="640"/>
<line class="k" x1="1075.2" y1="506.3" x2="1075.2" y2="646"/>
<line class="m" x1="1078.8" y1="509" x2="1078.8" y2="640"/>
<path class="m" d="M1078.8 640 L1082 644.5 L1087.5 644.5"/>
<line class="m" x1="1089.8" y1="506.3" x2="1089.8" y2="640"/>
<rect class="m" x="1079.6" y="521" width="8" height="10" rx="1"/>
<rect class="t" x="1081.6" y="523" width="4" height="6"/>
<rect class="m" x="1075" y="549.5" width="8" height="10" rx="1"/>
<rect class="t" x="1077" y="551.5" width="4" height="6"/>
<rect class="m" x="1075" y="590" width="8" height="10" rx="1"/>
<rect class="t" x="1077" y="592" width="4" height="6"/>
<rect class="m" x="1079.6" y="616.5" width="8" height="10" rx="1"/>
<rect class="t" x="1081.6" y="618.5" width="4" height="6"/>
<line class="m" x1="1082" y1="566" x2="1082" y2="588"/>
<line class="t" x1="1085.5" y1="560" x2="1085.5" y2="590"/>
<line class="t" x1="1078.8" y1="532" x2="1089.8" y2="532"/>
<line class="t" x1="1078.8" y1="561" x2="1089.8" y2="561"/>
<line class="t" x1="1078.8" y1="601" x2="1089.8" y2="601"/>
<line class="t" x1="1078.8" y1="628" x2="1089.8" y2="628"/>
<line class="k" x1="1215.8" y1="506.3" x2="1215.8" y2="646"/>
<line class="m" x1="1212.2" y1="509" x2="1212.2" y2="640"/>
<path class="m" d="M1212.2 640 L1209 644.5 L1203.5 644.5"/>
<line class="m" x1="1201.2" y1="506.3" x2="1201.2" y2="640"/>
<rect class="m" x="1203.4" y="521" width="8" height="10" rx="1"/>
<rect class="t" x="1205.4" y="523" width="4" height="6"/>
<rect class="m" x="1208" y="549.5" width="8" height="10" rx="1"/>
<rect class="t" x="1210" y="551.5" width="4" height="6"/>
<rect class="m" x="1208" y="590" width="8" height="10" rx="1"/>
<rect class="t" x="1210" y="592" width="4" height="6"/>
<rect class="m" x="1203.4" y="616.5" width="8" height="10" rx="1"/>
<rect class="t" x="1205.4" y="618.5" width="4" height="6"/>
<line class="m" x1="1209" y1="566" x2="1209" y2="588"/>
<line class="t" x1="1205.5" y1="560" x2="1205.5" y2="590"/>
<line class="t" x1="1212.2" y1="532" x2="1201.2" y2="532"/>
<line class="t" x1="1212.2" y1="561" x2="1201.2" y2="561"/>
<line class="t" x1="1212.2" y1="601" x2="1201.2" y2="601"/>
<line class="t" x1="1212.2" y1="628" x2="1201.2" y2="628"/>
<line class="t" x1="1092" y1="619.5" x2="1106" y2="619.5"/>
<line class="t" x1="1185" y1="619.5" x2="1202" y2="619.5"/>
<line class="cs" x1="1172" y1="525.5" x2="1218" y2="525.5"/>
<line class="k" x1="1087.5" y1="638" x2="1087.5" y2="796.1"/>
<line class="k" x1="1202.8" y1="638" x2="1202.8" y2="796.1"/>
<line class="k" x1="1117.9" y1="636.5" x2="1117.9" y2="777.2"/>
<line class="k" x1="1172.9" y1="636.5" x2="1172.9" y2="777.2"/>
<line class="k" x1="1117.9" y1="648.4" x2="1172.9" y2="648.4"/>
<line class="m" x1="1117.9" y1="676.5" x2="1172.9" y2="676.5"/>
<line class="k" x1="1117.9" y1="682.1" x2="1172.9" y2="682.1"/>
<line class="k" x1="1117.9" y1="688.9" x2="1172.9" y2="688.9"/>
<line class="d" x1="1138.1" y1="636.5" x2="1138.1" y2="777.2"/>
<line class="d" x1="1153.1" y1="636.5" x2="1153.1" y2="777.2"/>
<line class="m" x1="1138.1" y1="777.2" x2="1138.1" y2="796"/>
<line class="m" x1="1153.1" y1="777.2" x2="1153.1" y2="796"/>
<line class="t" x1="1138.1" y1="796" x2="1138.1" y2="832"/>
<line class="t" x1="1153.1" y1="796" x2="1153.1" y2="832"/>
<line class="c" x1="1145.5" y1="640" x2="1145.5" y2="804"/>
<line class="k" x1="1074" y1="673.1" x2="1087.5" y2="673.1"/>
<line class="k" x1="1074" y1="688.9" x2="1087.5" y2="688.9"/>
<line class="k" x1="1074" y1="701.7" x2="1087.5" y2="701.7"/>
<line class="k" x1="1074" y1="741.7" x2="1087.5" y2="741.7"/>
<rect class="kw" x="1210.2" y="595.7" width="11.6" height="6.6" rx="1.5"/>
<path class="kw" d="M1206.5 602.3 L1225 602.3 L1226.8 613.6 L1226.8 630.6 L1224 640.4 L1207.5 640.4 L1204.8 630.6 L1204.8 613.6 Z"/>
<line class="k" x1="1204.8" y1="613.6" x2="1226.8" y2="613.6"/>
<line class="k" x1="1204.8" y1="630.6" x2="1226.8" y2="630.6"/>
<line class="m" x1="1215.5" y1="613.6" x2="1215.5" y2="630.6"/>
<rect class="kw" x="1209.3" y="640.4" width="11.6" height="47.3"/>
<line class="m" x1="1209.3" y1="648.4" x2="1220.9" y2="648.4"/>
<line class="m" x1="1209.3" y1="680.5" x2="1220.9" y2="680.5"/>
<path class="kw" d="M1206.5 687.7 L1225 687.7 L1226.8 697.5 L1226.8 735 L1204.8 735 L1204.8 697.5 Z"/>
<line class="k" x1="1204.8" y1="697.5" x2="1226.8" y2="697.5"/>
<line class="m" x1="1204.8" y1="716.3" x2="1226.8" y2="716.3"/>
<line class="t" x1="1215.5" y1="697.5" x2="1215.5" y2="735"/>
<rect class="kw" x="1203.9" y="735" width="13.4" height="33.9"/>
<rect class="k" x="1048.2" y="777.2" width="194.3" height="18.9"/>
</g>
<g id="dims">
<line class="t" x1="490.6" y1="196" x2="490.6" y2="342"/>
<line class="c" style="stroke-dashoffset:43" x1="490.6" y1="344.5" x2="490.6" y2="797"/>
<line class="m" x1="490.6" y1="797" x2="490.6" y2="911"/>
<line class="t" x1="135" y1="573.8" x2="320.5" y2="573.8"/>
<line class="c" style="stroke-dashoffset:43" x1="323" y1="573.8" x2="775" y2="573.8"/>
<line class="c" x1="379.5" y1="451" x2="602" y2="451"/>
<line class="t" x1="705" y1="451" x2="734.5" y2="451"/>
<line class="t" x1="135" y1="797" x2="995.6" y2="797"/>
<line class="t" x1="212.4" y1="195" x2="212.4" y2="777"/>
<line class="t" x1="940.2" y1="196" x2="940.2" y2="614.5"/>
<line class="t" x1="212.4" y1="203.4" x2="940.2" y2="203.4"/>
<path class="ar" d="M212.4 203.4 L226.4 201.4 L226.4 205.4 Z"/>
<path class="ar" d="M490.6 203.4 L476.6 205.4 L476.6 201.4 Z"/>
<path class="ar" d="M490.6 203.4 L504.6 201.4 L504.6 205.4 Z"/>
<path class="ar" d="M940.2 203.4 L926.2 205.4 L926.2 201.4 Z"/>
<text class="tx" x="354.6" y="196.4" font-size="27.4" text-anchor="middle" textLength="24.5" lengthAdjust="spacingAndGlyphs">A1</text>
<text class="tx" x="717.4" y="196.4" font-size="27.4" text-anchor="middle" textLength="25" lengthAdjust="spacingAndGlyphs">A2</text>
<line class="t" x1="869.6" y1="234.4" x2="995.5" y2="234.4"/>
<line class="t" x1="987.8" y1="234.4" x2="987.8" y2="797"/>
<path class="ar" d="M987.8 234.4 L989.8 248.4 L985.8 248.4 Z"/>
<path class="ar" d="M987.8 797 L985.8 783 L989.8 783 Z"/>
<text class="tx" x="983" y="513.5" font-size="27.4" text-anchor="middle" textLength="14" lengthAdjust="spacingAndGlyphs" transform="rotate(-90 983 513.5)">H</text>
<line class="t" x1="143.2" y1="573.8" x2="143.2" y2="797"/>
<path class="ar" d="M143.2 573.8 L145.2 587.8 L141.2 587.8 Z"/>
<path class="ar" d="M143.2 797 L141.2 783 L145.2 783 Z"/>
<text class="tx" x="137.5" y="663.5" font-size="27.4" text-anchor="middle" textLength="24" lengthAdjust="spacingAndGlyphs" transform="rotate(-90 137.5 663.5)">h1</text>
<line class="t" x1="169.8" y1="777.7" x2="213.5" y2="777.7"/>
<line class="t" x1="177.3" y1="755.8" x2="177.3" y2="842"/>
<path class="ar" d="M177.3 777.7 L175.3 763.7 L179.3 763.7 Z"/>
<path class="ar" d="M177.3 797 L179.3 811 L175.3 811 Z"/>
<text class="tx" x="173.5" y="829.5" font-size="27.4" text-anchor="middle" textLength="12" lengthAdjust="spacingAndGlyphs" transform="rotate(-90 173.5 829.5)">n</text>
<text class="tx" x="260.5" y="756.6" font-size="27.4" text-anchor="middle" textLength="51" lengthAdjust="spacingAndGlyphs">8-Ød</text>
<line class="t" x1="233.7" y1="760.9" x2="314.7" y2="760.9"/>
<path class="ar" d="M288.5 760.9 L274.5 762.9 L274.5 758.9 Z"/>
<path class="ar" d="M299.8 760.9 L313.8 758.9 L313.8 762.9 Z"/>
<line class="t" x1="288.5" y1="747" x2="288.5" y2="777"/>
<line class="t" x1="299.8" y1="747" x2="299.8" y2="777"/>
<line class="t" x1="215.7" y1="797" x2="215.7" y2="942"/>
<line class="t" x1="294.3" y1="776" x2="294.3" y2="916"/>
<line class="t" x1="430.2" y1="773" x2="430.2" y2="878.5"/>
<line class="t" x1="460.6" y1="797" x2="460.6" y2="942"/>
<line class="m" x1="460.6" y1="797" x2="460.6" y2="812"/>
<line class="t" x1="520.6" y1="797" x2="520.6" y2="942"/>
<line class="m" x1="520.6" y1="797" x2="520.6" y2="812"/>
<line class="t" x1="550.6" y1="773" x2="550.6" y2="878.5"/>
<line class="t" x1="686.7" y1="775" x2="686.7" y2="916.5"/>
<line class="t" x1="765.2" y1="797" x2="765.2" y2="944.5"/>
<line class="t" x1="438.2" y1="839.7" x2="543" y2="839.7"/>
<path class="ar" d="M460.6 839.7 L446.6 841.7 L446.6 837.7 Z"/>
<path class="ar" d="M520.6 839.7 L534.6 837.7 L534.6 841.7 Z"/>
<circle class="fk" cx="490.6" cy="839.7" r="3"/>
<text class="tx" x="476.8" y="832.2" font-size="27.4" text-anchor="middle" textLength="22.5" lengthAdjust="spacingAndGlyphs">G1</text>
<text class="tx" x="506.2" y="832.2" font-size="27.4" text-anchor="middle" textLength="22.5" lengthAdjust="spacingAndGlyphs">G1</text>
<line class="t" x1="391.5" y1="872.8" x2="595.5" y2="872.8"/>
<path class="ar" d="M430.2 872.8 L416.2 874.8 L416.2 870.8 Z"/>
<path class="ar" d="M550.6 872.8 L564.6 870.8 L564.6 874.8 Z"/>
<circle class="fk" cx="490.6" cy="872.8" r="3"/>
<text class="tx" x="406" y="869.3" font-size="27.4" text-anchor="middle" textLength="23" lengthAdjust="spacingAndGlyphs">K1</text>
<text class="tx" x="582.5" y="869.3" font-size="27.4" text-anchor="middle" textLength="23" lengthAdjust="spacingAndGlyphs">K1</text>
<line class="t" x1="294.3" y1="902.7" x2="686.7" y2="902.7"/>
<path class="ar" d="M294.3 902.7 L308.3 900.7 L308.3 904.7 Z"/>
<path class="ar" d="M490.6 902.7 L476.6 904.7 L476.6 900.7 Z"/>
<path class="ar" d="M490.6 902.7 L504.6 900.7 L504.6 904.7 Z"/>
<path class="ar" d="M686.7 902.7 L672.7 904.7 L672.7 900.7 Z"/>
<text class="tx" x="394.5" y="899.2" font-size="27.4" text-anchor="middle" textLength="12.5" lengthAdjust="spacingAndGlyphs">K</text>
<text class="tx" x="588.2" y="899.2" font-size="27.4" text-anchor="middle" textLength="12.5" lengthAdjust="spacingAndGlyphs">K</text>
<line class="t" x1="215.7" y1="935.1" x2="460.6" y2="935.1"/>
<path class="ar" d="M215.7 935.1 L229.7 933.1 L229.7 937.1 Z"/>
<path class="ar" d="M460.6 935.1 L446.6 937.1 L446.6 933.1 Z"/>
<line class="t" x1="520.6" y1="935.1" x2="765.2" y2="935.1"/>
<path class="ar" d="M520.6 935.1 L534.6 933.1 L534.6 937.1 Z"/>
<path class="ar" d="M765.2 935.1 L751.2 937.1 L751.2 933.1 Z"/>
<text class="tx" x="339" y="927.7" font-size="27.4" text-anchor="middle" textLength="12.5" lengthAdjust="spacingAndGlyphs">G</text>
<text class="tx" x="657.5" y="927.7" font-size="27.4" text-anchor="middle" textLength="12.5" lengthAdjust="spacingAndGlyphs">G</text>
<line class="t" x1="386.7" y1="682.5" x2="594.5" y2="465.1"/>
<path class="ar" d="M594.5 465.1 L586.8 475.7 L584.2 473.2 Z"/>
<path class="ar" d="M386.7 682.5 L394.4 671.9 L397 674.4 Z"/>
<line class="t" x1="397.7" y1="599.2" x2="583.5" y2="548.4"/>
<path class="ar" d="M583.5 548.4 L571.4 553.6 L570.5 550.1 Z"/>
<path class="ar" d="M397.7 599.2 L409.8 594 L410.7 597.5 Z"/>
<text class="tx" x="485" y="567.5" font-size="25.5" text-anchor="middle" textLength="24" lengthAdjust="spacingAndGlyphs" transform="rotate(-46.3 485 567.5)">ØD</text>
<text class="tx" x="541.5" y="553.5" font-size="25.5" text-anchor="middle" textLength="38" lengthAdjust="spacingAndGlyphs" transform="rotate(-15.3 541.5 553.5)">ØD1</text>
<line class="c" x1="1023.5" y1="320.1" x2="1270.7" y2="320.1"/>
<line class="c" x1="1026.9" y1="378.5" x2="1260.6" y2="378.5"/>
<line class="c" x1="1030.2" y1="445.7" x2="1264" y2="445.7"/>
<line class="c" x1="1026.9" y1="494.4" x2="1243.7" y2="494.4"/>
<line class="c" x1="1025.7" y1="573.8" x2="1270.7" y2="573.8"/>
<line class="c" x1="1033.6" y1="661.5" x2="1264" y2="661.5"/>
<line class="c" x1="1033.6" y1="676.5" x2="1264" y2="676.5"/>
<line class="c" x1="1031.3" y1="721.5" x2="1259.4" y2="721.5"/>
<line class="c" x1="1145.5" y1="238" x2="1145.5" y2="347"/>
<line class="t" x1="1038.5" y1="206" x2="1038.5" y2="282"/>
<line class="t" x1="1252.7" y1="206" x2="1252.7" y2="282"/>
<line class="t" x1="1038.5" y1="214.3" x2="1252.7" y2="214.3"/>
<path class="ar" d="M1038.5 214.3 L1052.5 212.3 L1052.5 216.3 Z"/>
<path class="ar" d="M1252.7 214.3 L1238.7 216.3 L1238.7 212.3 Z"/>
<text class="tx" x="1146.2" y="206.6" font-size="27.4" text-anchor="middle" textLength="12" lengthAdjust="spacingAndGlyphs">B</text>
<line class="t" x1="1112.2" y1="828.4" x2="1185.3" y2="828.4"/>
<path class="ar" d="M1138.1 828.4 L1125.1 830.4 L1125.1 826.4 Z"/>
<path class="ar" d="M1153.1 828.4 L1166.1 826.4 L1166.1 830.4 Z"/>
<text class="tx" x="1179" y="825.2" font-size="27.4" text-anchor="middle" textLength="21.5" lengthAdjust="spacingAndGlyphs">b1</text>
<line class="t" x1="1102.8" y1="772" x2="1102.8" y2="871.2"/>
<line class="t" x1="1187.5" y1="772" x2="1187.5" y2="871.2"/>
<line class="t" x1="1102.8" y1="861.6" x2="1187.5" y2="861.6"/>
<path class="ar" d="M1102.8 861.6 L1116.8 859.6 L1116.8 863.6 Z"/>
<path class="ar" d="M1187.5 861.6 L1173.5 863.6 L1173.5 859.6 Z"/>
<text class="tx" x="1149" y="858.4" font-size="27.4" text-anchor="middle" textLength="21" lengthAdjust="spacingAndGlyphs">J1</text>
<line class="t" x1="1071.3" y1="772" x2="1071.3" y2="908.3"/>
<line class="t" x1="1219" y1="772" x2="1219" y2="908.3"/>
<line class="t" x1="1071.3" y1="895.3" x2="1219" y2="895.3"/>
<path class="ar" d="M1071.3 895.3 L1085.3 893.3 L1085.3 897.3 Z"/>
<path class="ar" d="M1219 895.3 L1205 897.3 L1205 893.3 Z"/>
<text class="tx" x="1147.6" y="894" font-size="27.4" text-anchor="middle" textLength="10.5" lengthAdjust="spacingAndGlyphs">J</text>
<line class="t" x1="1048.2" y1="796" x2="1048.2" y2="938.7"/>
<line class="t" x1="1242.6" y1="796" x2="1242.6" y2="938.7"/>
<line class="t" x1="1048.2" y1="931.2" x2="1242.6" y2="931.2"/>
<path class="ar" d="M1048.2 931.2 L1062.2 929.2 L1062.2 933.2 Z"/>
<path class="ar" d="M1242.6 931.2 L1228.6 933.2 L1228.6 929.2 Z"/>
<text class="tx" x="1146.5" y="926.7" font-size="27.4" text-anchor="middle" textLength="23.6" lengthAdjust="spacingAndGlyphs">B1</text>
</g>
</svg>
</body></html>
